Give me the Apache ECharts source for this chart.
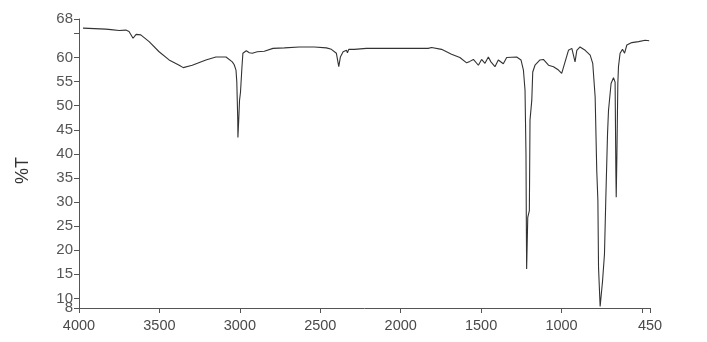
<!DOCTYPE html>
<html>
<head>
<meta charset="utf-8">
<script src="https://cdn.jsdelivr.net/npm/echarts@6/dist/echarts.min.js"></script>
<style>
html,body{margin:0;padding:0;background:#fff;}
#chart{width:707px;height:342px;}
</style>
</head>
<body>
<div id="chart"></div>
<script>
// Wavenumber (cm-1) and %T
var wavenumbers = [3975,3834,3826,3801,3751,3709,3689,3664,3645,3616,3564,3502,3440,3377,3352,3296,3211,3149,3086,3047,3035,3024,3019,3016,3013,3012,3007,3002,2996,2987,2981,2960,2941,2923,2892,2848,2794,2723,2630,2537,2462,2431,2400,2385,2375,2358,2337,2331,2323,2288,2213,1829,1808,1746,1684,1632,1590,1570,1548,1517,1497,1476,1455,1439,1414,1393,1362,1341,1279,1252,1237,1227,1221,1219,1217,1210,1200,1196,1185,1179,1165,1134,1113,1081,1050,1019,999,978,957,936,916,905,885,853,822,806,791,781,774,770,760,754,745,733,725,714,708,692,677,667,662,660,656,650,646,636,621,608,594,563,521,480,455];
var transmittance = [66.1,65.9,65.6,65.8,65.6,65.7,65.4,64.0,64.8,64.7,63.3,61.2,59.5,58.4,57.9,58.4,59.5,60.1,60.1,59.1,58.5,57.4,55.0,51.1,47.0,43.4,47.0,51.1,52.8,58.0,60.9,61.4,61.0,60.9,61.2,61.3,61.9,62.0,62.2,62.2,62.0,61.7,60.9,58.1,60.1,61.2,61.5,61.0,61.7,61.7,61.9,61.9,62.1,61.7,60.7,60.0,58.9,59.2,59.6,58.4,59.6,58.8,60.1,59.1,58.1,59.5,58.7,60.0,60.1,59.5,57.4,53.2,40.0,26.8,16.1,26.8,28.2,47.0,51.1,57.0,58.4,59.5,59.6,58.4,58.1,57.4,56.7,59.1,61.5,61.9,59.1,61.5,62.2,61.5,60.5,58.8,51.8,36.5,30.3,16.4,8.3,8.3,13.6,19.2,30.3,44.2,49.0,54.6,55.8,54.9,35.9,31.0,39.3,54.6,58.1,60.9,61.7,60.9,62.6,63.1,63.3,63.6,63.5];
var xTicks = [4000,3500,3000,2500,2000,1500,1000,500,450];
var xLabels = [4000,3500,3000,2500,2000,1500,1000,450];
var yTicks = [8,10,15,20,25,30,35,40,45,50,55,60,65,68];
var yLabels = [10,15,20,25,30,35,40,45,50,55,60,68];
var yBottomLabel = [8];

var points = wavenumbers.map(function (w, i) { return [w, transmittance[i]]; });
function plain(v) { return String(v); }
var labelFont = 'Liberation Sans Narrow, Liberation Sans, Arial, sans-serif';

var chart = echarts.init(document.getElementById('chart'), null, {renderer: 'canvas'});
chart.setOption({
  animation: false,
  backgroundColor: '#ffffff',
  grid: {left: 79, right: 57, top: 19, bottom: 34, containLabel: false},
  xAxis: {
    type: 'value', min: 450, max: 4000, inverse: true,
    splitLine: {show: false},
    axisLine: {lineStyle: {color: '#555', width: 1}},
    axisTick: {show: true, length: 5, customValues: xTicks, lineStyle: {color: '#555'}},
    axisLabel: {customValues: xLabels, formatter: plain, margin: 10, color: '#4a4a4a', fontSize: 14.5,
      showMinLabel: true, showMaxLabel: true, hideOverlap: false,
      fontFamily: 'Liberation Sans, Arial, sans-serif'}
  },
  yAxis: [{
    type: 'value', min: 8, max: 68,
    name: '%T', nameLocation: 'middle', nameGap: 56, nameRotate: 90,
    nameTextStyle: {fontSize: 18, color: '#333', fontFamily: 'Liberation Sans, Arial, sans-serif', padding: [0, 14, 0, 0], verticalAlign: 'middle'},
    splitLine: {show: false},
    axisLine: {show: true, lineStyle: {color: '#555', width: 1}},
    axisTick: {show: true, length: 5, customValues: yTicks, lineStyle: {color: '#555'}},
    axisLabel: {customValues: yLabels, formatter: plain, margin: 6, color: '#555', fontSize: 15,
      showMinLabel: true, showMaxLabel: true, hideOverlap: false,
      fontFamily: labelFont, padding: [0, 0, 7, 0]}
  }, {
    type: 'value', min: 8, max: 68, position: 'left',
    splitLine: {show: false},
    axisLine: {show: false},
    axisTick: {show: false},
    axisLabel: {customValues: yBottomLabel, formatter: plain, margin: 6, color: '#555', fontSize: 15,
      showMinLabel: true, hideOverlap: false, fontFamily: labelFont, padding: [0, 0, 2, 0]}
  }],
  series: [{
    type: 'line',
    data: points,
    showSymbol: false,
    lineStyle: {color: '#333', width: 1.1},
    silent: true
  }]
});
</script>
</body>
</html>
